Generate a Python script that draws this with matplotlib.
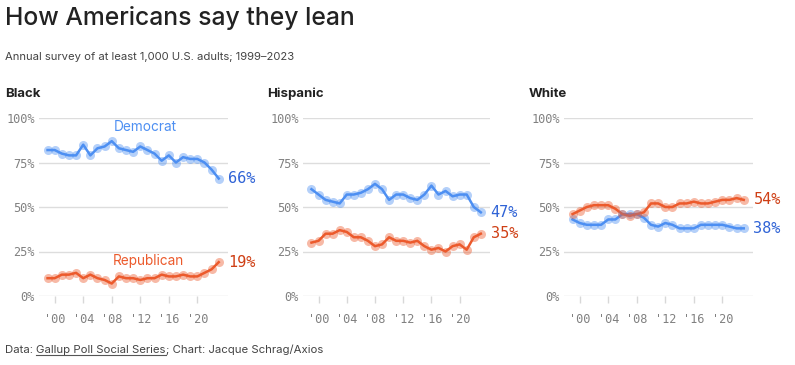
import matplotlib
matplotlib.use("Agg")
import matplotlib.pyplot as plt
from matplotlib.lines import Line2D

years = list(range(1999, 2024))

black_dem = [82, 82, 80, 79, 79, 85, 79, 83, 84, 87, 83, 82, 81, 84, 82, 80, 76, 79, 75, 78, 77, 77, 75, 71, 66]
black_rep = [10, 10, 12, 12, 13, 10, 12, 10, 9, 7, 11, 10, 10, 9, 10, 10, 12, 11, 11, 12, 11, 11, 13, 15, 19]
hisp_dem = [60, 57, 54, 53, 52, 57, 57, 58, 60, 63, 60, 54, 57, 57, 55, 54, 57, 62, 57, 59, 56, 57, 57, 50, 47]
hisp_rep = [30, 31, 35, 35, 37, 36, 33, 33, 31, 28, 29, 33, 31, 31, 30, 31, 28, 26, 27, 25, 28, 29, 26, 33, 35]
white_dem = [43, 41, 40, 40, 40, 43, 43, 46, 46, 46, 44, 40, 39, 41, 40, 38, 38, 38, 40, 40, 40, 40, 39, 38, 38]
white_rep = [46, 48, 50, 51, 51, 51, 49, 46, 45, 46, 47, 52, 52, 50, 50, 52, 52, 53, 52, 52, 53, 54, 54, 55, 54]

panels = ["Black", "Hispanic", "White"]
xticks = [2000, 2004, 2008, 2012, 2016, 2020]
xticklabels = ["'00", "'04", "'08", "'12", "'16", "'20"]
yticks = [0, 25, 50, 75, 100]
yticklabels = ["0%", "25%", "50%", "75%", "100%"]

DEM = "#4d8ff2"
DEM_TXT = "#2f63d6"
REP = "#ec5a2c"
REP_TXT = "#cf3f15"
MONO = "DejaVu Sans Mono"

fig = plt.figure(figsize=(7.95, 3.65), dpi=100)
W, H = 795, 365

fig.text(5 / W, 1 - 18 / H, "How Americans say they lean", fontsize=17.8, color="#222222",
         va="center", ha="left", family="Inter", fontweight="medium")
fig.text(5 / W, 1 - 57 / H, "Annual survey of at least 1,000 U.S. adults; 1999\u20132023",
         fontsize=8.1, color="#444444", va="center", ha="left", family="Inter")

lefts = [39, 303, 564]
widths = [189, 187, 189]
data = [(black_dem, black_rep), (hisp_dem, hisp_rep), (white_dem, white_rep)]
title_x = [5, 267, 529]

axes = []
for i in range(3):
    ax = fig.add_axes([lefts[i] / W, 1 - 296 / H, widths[i] / W, (296 - 118) / H])
    axes.append(ax)
    dem, rep = data[i]
    for vals, col in ((dem, DEM), (rep, REP)):
        ax.plot(years, vals, color=col, lw=1.8, zorder=3)
        ax.plot(years, vals, "o", color=col, ms=6.5, alpha=0.42, mec="none", zorder=4)
    ax.set_xlim(1997.8, 2024.3)
    ax.set_ylim(0, 100)
    ax.set_yticks(yticks)
    ax.set_yticklabels(yticklabels, family=MONO, fontsize=8.6, color="#808080")
    ax.set_xticks(xticks)
    ax.set_xticklabels(xticklabels, family=MONO, fontsize=8.6, color="#808080")
    ax.tick_params(axis="y", length=0, pad=3)
    ax.tick_params(axis="x", length=5, color="#d8d8d8", width=1, pad=7)
    ax.grid(axis="y", color="#dddddd", lw=1)
    for s in ax.spines.values():
        s.set_visible(False)
    fig.text(title_x[i] / W, 1 - 94 / H, panels[i], fontsize=9.5, fontweight="bold",
             color="#222222", va="center", ha="left", family="Inter")
    for vals, col in ((dem, DEM_TXT), (rep, REP_TXT)):
        ax.annotate(f"{vals[-1]}%", (years[-1], vals[-1]), xytext=(7, 0),
                    textcoords="offset points", va="center", ha="left",
                    family=MONO, fontsize=11, color=col, annotation_clip=False)

axes[0].text(2012.7, 95, "Democrat", color=DEM, fontsize=9.8, ha="center", va="center", family="Inter")
axes[0].text(2013.1, 19.5, "Republican", color=REP, fontsize=9.8, ha="center", va="center", family="Inter")

# footer with underlined source
fy = 1 - 350 / H
fs = 8.2
t1 = fig.text(5 / W, fy, "Data: ", fontsize=fs, color="#444444", va="center", ha="left", family="Inter")
fig.canvas.draw()
r = fig.canvas.get_renderer()
bb = t1.get_window_extent(r)
t2 = fig.text(bb.x1 / W, fy, "Gallup Poll Social Series", fontsize=fs, color="#444444",
              va="center", ha="left", family="Inter")
bb2 = t2.get_window_extent(r)
t3 = fig.text(bb2.x1 / W, fy, "; Chart: Jacque Schrag/Axios", fontsize=fs, color="#444444",
              va="center", ha="left", family="Inter")
uy = (bb2.y0 + 0.5) / H
fig.add_artist(Line2D([bb2.x0 / W, bb2.x1 / W], [uy, uy], color="#555555", lw=0.8))

fig.savefig("out.png", dpi=100)
